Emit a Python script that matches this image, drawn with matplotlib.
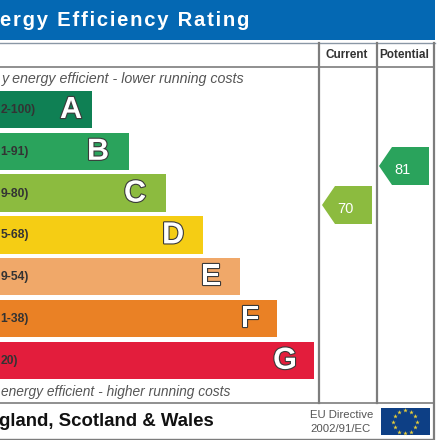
import matplotlib
matplotlib.use('Agg')
import matplotlib.pyplot as plt
import matplotlib.patheffects as pe
import numpy as np

bands = ['A', 'B', 'C', 'D', 'E', 'F', 'G']
ranges = ['2-100)', '1-91)', '9-80)', '5-68)', '9-54)', '1-38)', '20)']
bar_lengths = [92, 129, 166, 203, 240, 277, 314]
letter_offsets = [21, 31, 31, 30, 29, 27, 29]
bar_colors = ['#0f8054', '#2aa35c', '#8cbb3f', '#f5cd14', '#f0a869', '#ea8125', '#e31d3c']
current_value = 70
potential_value = 81

plt.rcParams['font.family'] = ['Liberation Sans', 'DejaVu Sans']

fig = plt.figure(figsize=(4.4, 4.4), dpi=100)
ax = fig.add_axes([0, 0, 1, 1])
ax.set_xlim(0, 440)
ax.set_ylim(440, 0)
ax.axis('off')

# header band, title is letter spaced so join with hair spaces
ax.fill_between([0, 435], 0, 40.5, color='#0468b3', lw=0)
ax.text(249, 20.5, '\u200a'.join('ergy Efficiency Rating'), color='white', fontsize=14.6, fontweight='bold',
        ha='right', va='center')
ax.plot([0, 435], [43, 43], color='#8a97a5', lw=1.0)

# frame
line = '#7d7d7d'
ax.plot([0, 433], [67, 67], color=line, lw=1.2)
ax.plot([0, 433], [403, 403], color=line, lw=1.2)
ax.plot([0, 433], [439, 439], color=line, lw=1.0)
for x in [318.5, 376.5]:
    ax.plot([x, x], [43, 403], color=line, lw=1.6)
ax.plot([433.5, 433.5], [43, 439], color=line, lw=1.6)

ax.text(346.5, 55, 'Current', fontsize=8.5, fontweight='bold', color='#333333', ha='center', va='center')
ax.text(404.5, 55, 'Potential', fontsize=8.5, fontweight='bold', color='#333333', ha='center', va='center')

ax.text(244, 79, 'y energy efficient - lower running costs', fontsize=10.3, style='italic',
        color='#555555', ha='right', va='center')
ax.text(230, 392, 'energy efficient - higher running costs', fontsize=9.9, style='italic',
        color='#555555', ha='right', va='center')

# rating bars
ys = np.arange(len(bands)) * 41.8 + 109.5
ax.barh(ys, bar_lengths, height=37.5, color=bar_colors, lw=0)
for y, length, off, band, rng in zip(ys, bar_lengths, letter_offsets, bands, ranges):
    ax.text(0.5, y + 0.5, rng, fontsize=8.7, fontweight='bold', color='#333333', ha='left', va='center')
    ax.text(length - off, y + 0.5, band, fontsize=22, fontweight='bold', color='white', ha='center', va='center',
            path_effects=[pe.withStroke(linewidth=1.6, foreground='#3a3a3a')])


def tag(x0, yc, value, color):
    # arrow shaped tag pointing left
    xs = [x0, x0 + 13, x0 + 50, x0 + 50, x0 + 13]
    yy = [yc, yc - 19, yc - 19, yc + 19, yc + 19]
    ax.fill(xs, yy, color=color, lw=0)
    ax.text(x0 + 23.5, yc + 4, str(value), fontsize=10.5, color='white', ha='center', va='center')


tag(322, 205, current_value, bar_colors[2])
tag(379, 166, potential_value, bar_colors[1])

# footer
ax.text(214, 421.5, 'gland, Scotland & Wales', fontsize=13.4, fontweight='bold', color='#111111',
        ha='right', va='center')
ax.text(310, 415, 'EU Directive', fontsize=8.2, color='#555555', ha='left', va='center')
ax.text(310, 428.5, '2002/91/EC', fontsize=8.2, color='#555555', ha='left', va='center')

# EU flag
ax.fill_between([381, 429.5], 408, 435, color='#0d3f85', lw=0)
ang = np.arange(12) * np.pi / 6
ax.scatter(405 + 12 * np.cos(ang), 421.7 + 11.5 * np.sin(ang), s=12, marker='*', color='#e8cf3a', lw=0)

fig.savefig('out.png', dpi=100)
